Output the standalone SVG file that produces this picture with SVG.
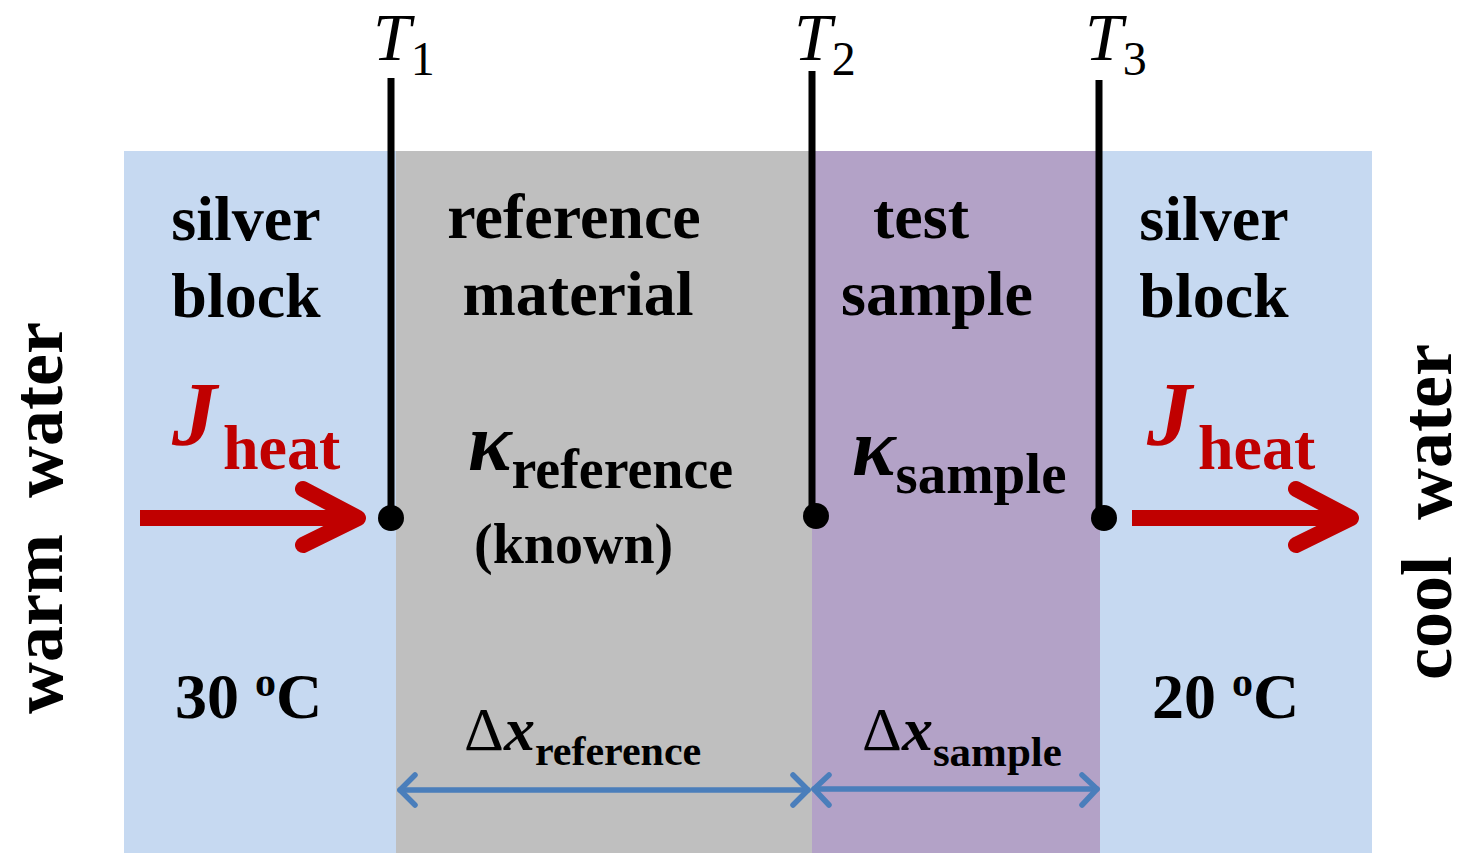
<svg xmlns="http://www.w3.org/2000/svg" width="1468" height="853" viewBox="0 0 1468 853">
<style>
.t{font-family:"Liberation Serif","Times New Roman",serif;font-weight:bold;fill:#000}
.lbl{font-size:64px}
.side{font-size:72px}
.tl{font-family:"Liberation Serif","Times New Roman",serif;font-style:italic;font-size:68px;fill:#000}
.probe{stroke:#000;stroke-width:7;fill:none}
.red{stroke:#C00000;stroke-width:16;stroke-linecap:round;stroke-linejoin:round;fill:none}
.blue{stroke:#4A7EBB;stroke-width:5.5;stroke-linecap:round;stroke-linejoin:round;fill:none}
</style>
<rect width="1468" height="853" fill="#fff"/>
<g id="silver-left"><rect x="124" y="151" width="272" height="702" fill="#C6D9F1"/>
<text class="t lbl" x="246" y="240" text-anchor="middle">silver</text>
<text class="t lbl" x="246" y="317" text-anchor="middle">block</text>
<text class="t lbl" x="175" y="718">30 <tspan font-size="42" dy="-22">o</tspan><tspan dy="22">C</tspan></text>
</g>
<g id="reference"><rect x="396" y="151" width="416" height="702" fill="#BFBFBF"/>
<text class="t lbl" x="574" y="238" text-anchor="middle">reference</text>
<text class="t lbl" x="578" y="315" text-anchor="middle">material</text>
<text class="t" x="468" y="470" font-size="82" font-style="italic">κ<tspan font-size="56" font-style="normal" dy="18">reference</tspan></text>
<text class="t" x="474" y="563" font-size="56">(known)</text>
<text class="t" x="464" y="750" font-size="62"><tspan font-weight="normal">Δ</tspan><tspan font-style="italic">x</tspan><tspan font-size="42" dy="15">reference</tspan></text>
</g>
<g id="sample"><rect x="812" y="151" width="288" height="702" fill="#B3A2C7"/>
<text class="t lbl" x="921" y="238" text-anchor="middle">test</text>
<text class="t lbl" x="937" y="315" text-anchor="middle">sample</text>
<text class="t" x="852" y="475" font-size="82" font-style="italic">κ<tspan font-size="57" font-style="normal" dy="18">sample</tspan></text>
<text class="t" x="862" y="750" font-size="62"><tspan font-weight="normal">Δ</tspan><tspan font-style="italic">x</tspan><tspan font-size="43" dy="16">sample</tspan></text>
</g>
<g id="silver-right"><rect x="1100" y="151" width="272" height="702" fill="#C6D9F1"/>
<text class="t lbl" x="1214" y="240" text-anchor="middle">silver</text>
<text class="t lbl" x="1214" y="317" text-anchor="middle">block</text>
<text class="t lbl" x="1152" y="718">20 <tspan font-size="42" dy="-22">o</tspan><tspan dy="22">C</tspan></text>
</g>
<g id="warm-water"><text class="t side" transform="translate(62,518) rotate(-90)" text-anchor="middle" xml:space="preserve">warm  water</text></g>
<g id="cool-water"><text class="t side" transform="translate(1451,512) rotate(-90)" text-anchor="middle" xml:space="preserve">cool  water</text></g>
<g id="probes">
<text class="tl" x="373" y="60">T<tspan font-style="normal" font-size="48" dy="15">1</tspan></text>
<text class="tl" x="794" y="60">T<tspan font-style="normal" font-size="48" dy="15">2</tspan></text>
<text class="tl" x="1085" y="60">T<tspan font-style="normal" font-size="48" dy="15">3</tspan></text>
<line class="probe" x1="391" y1="78" x2="391" y2="518"/><circle cx="391" cy="518" r="13"/>
<line class="probe" x1="812" y1="71" x2="812" y2="516"/><circle cx="816" cy="516" r="13"/>
<line class="probe" x1="1099" y1="80" x2="1099" y2="518"/><circle cx="1104" cy="518" r="13"/>
</g>
<g id="heat-flux">
<text class="t" style="fill:#C00000" x="172" y="445" font-size="90" font-style="italic">J<tspan font-style="normal" font-size="64" dx="6" dy="24">heat</tspan></text>
<text class="t" style="fill:#C00000" x="1147" y="445" font-size="90" font-style="italic">J<tspan font-style="normal" font-size="64" dx="6" dy="24">heat</tspan></text>
</g>
<g id="connectors">
<line x1="140" y1="518" x2="352" y2="518" stroke="#C00000" stroke-width="16"/>
<polyline class="red" points="303,489 358,518 303,545"/>
<line x1="1132" y1="518" x2="1345" y2="518" stroke="#C00000" stroke-width="16"/>
<polyline class="red" points="1296,489 1351,518 1296,545"/>
<line class="blue" x1="400" y1="790" x2="808" y2="790"/>
<polyline class="blue" points="415,775 400,790 415,805"/>
<polyline class="blue" points="793,775 808,790 793,805"/>
<line class="blue" x1="814" y1="789" x2="1097" y2="789"/>
<polyline class="blue" points="829,775 814,789 829,805"/>
<polyline class="blue" points="1082,775 1097,789 1082,805"/>
</g>
</svg>
